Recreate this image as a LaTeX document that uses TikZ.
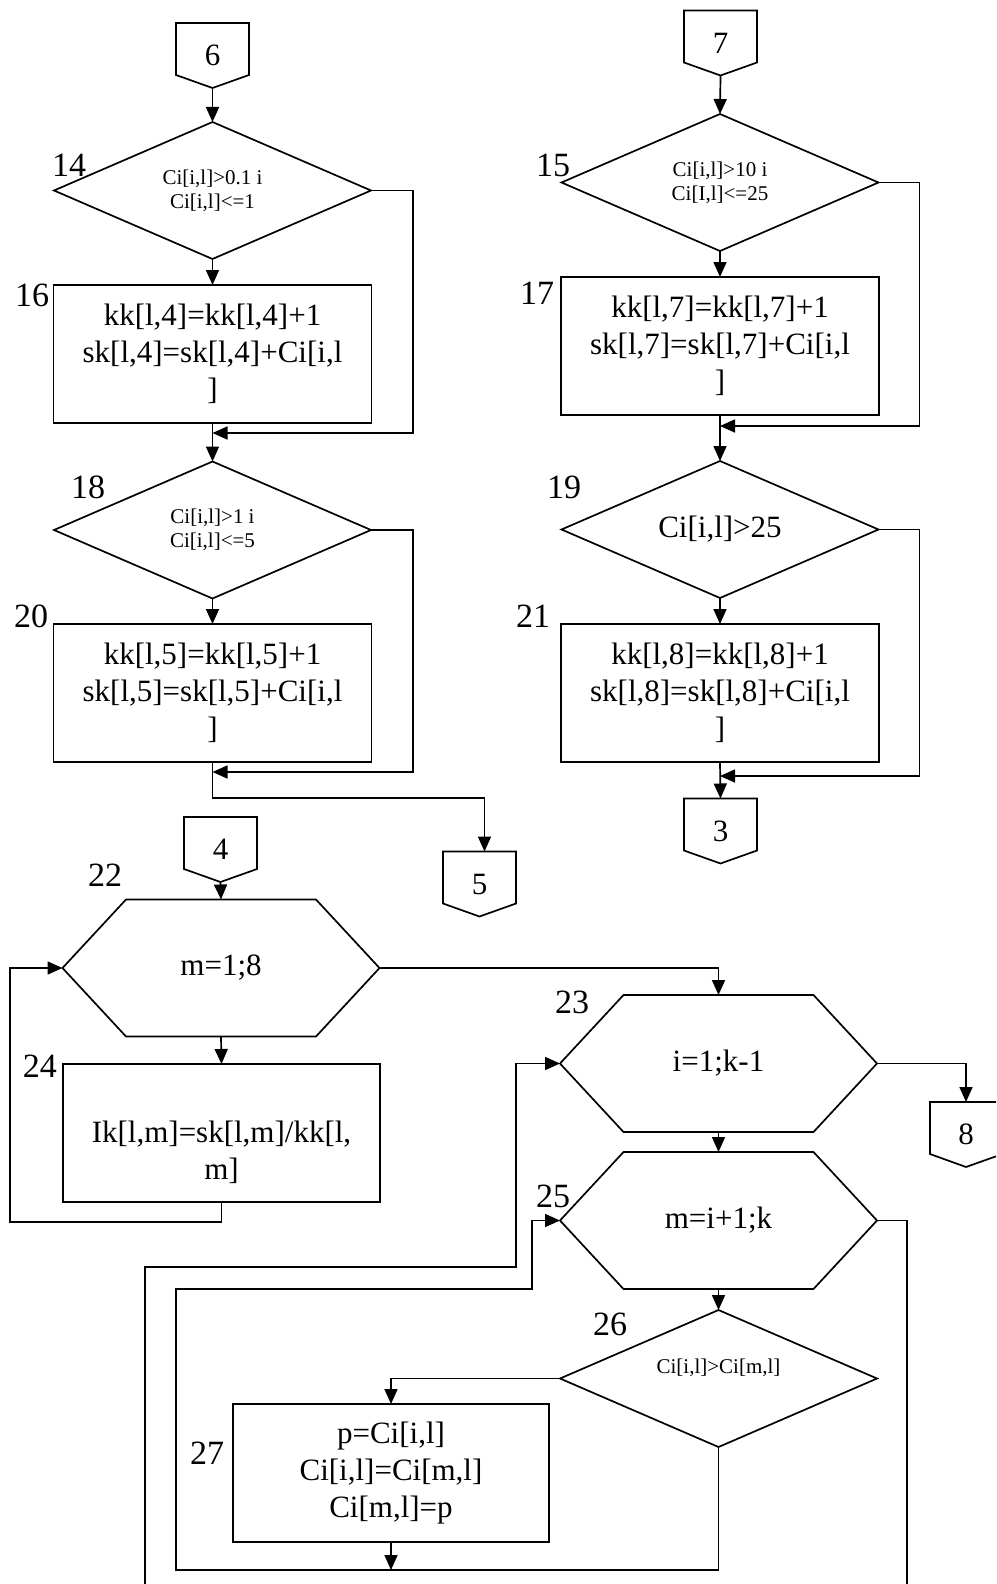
\documentclass[tikz,border=0pt]{standalone}
\usepackage{fontspec}
\setmainfont{Liberation Serif}
\usetikzlibrary{shapes.geometric,arrows.meta,calc}
\newcommand\FBig{\fontsize{31}{37}\selectfont}
\newcommand\FSmall{\fontsize{21}{24}\selectfont}
\newcommand\FLbl{\fontsize{34}{40}\selectfont}
\newcommand\FConn{\fontsize{31}{36}\selectfont}
\tikzset{
  every node/.style={inner sep=0pt, outer sep=0pt},
  flow/.style={line width=1.7pt},
  arr/.style={flow, -{Triangle[length=15pt,width=13pt]}},
  procbox/.style={draw, line width=1.7pt, minimum width=318pt, minimum height=138pt, align=center, font=\FBig},
  decis/.style={diamond, draw, line width=1.7pt, shape aspect=2.3, minimum width=317pt, minimum height=137pt, align=center, font=\FSmall},
  hexa/.style={minimum width=317pt, minimum height=137pt, align=center, font=\FBig},
  conn/.style={minimum width=73pt, minimum height=65pt, font=\FConn},
  lbl/.style={font=\FLbl},
}
\newcommand\hexnode[4]{%
  \node[hexa] (#1) at (#2,#3) {#4};
  \draw[flow] (#1.west) -- ([xshift=63.5pt]#1.north west) -- ([xshift=-63.5pt]#1.north east) -- (#1.east) -- ([xshift=-63.5pt]#1.south east) -- ([xshift=63.5pt]#1.south west) -- cycle;
}
\newcommand\offpage[4]{%
  \node[conn] (#1) at (#2,#3) {#4};
  \draw[flow] (#1.north west) -- (#1.north east) -- ([yshift=13pt]#1.south east) -- (#1.south) -- ([yshift=13pt]#1.south west) -- cycle;
}
\begin{document}
\begin{tikzpicture}[x=1pt,y=-1pt]
\fill[white] (0,0) rectangle (996,1584);

% ---------- left upper column ----------
\offpage{c6}{212.5}{55.5}{6}
\node[decis] (d14) at (212.5,190.5) {Ci[i,l]>0.1 i\\Ci[i,l]<=1};
\node[procbox] (b16) at (212.5,354) {kk[l,4]=kk[l,4]+1\\sk[l,4]=sk[l,4]+Ci[i,l\\]};
\node[decis] (d18) at (212.5,530) {Ci[i,l]>1 i\\Ci[i,l]<=5};
\node[procbox] (b20) at (212.5,693) {kk[l,5]=kk[l,5]+1\\sk[l,5]=sk[l,5]+Ci[i,l\\]};
\offpage{c5}{479.5}{884}{5}

\node[lbl] (l14) at (69,165) {14};
\node[lbl] (l16) at (32,295) {16};
\node[lbl] (l18) at (88,487) {18};
\node[lbl] (l20) at (31,616) {20};

\coordinate (j1) at (212.5,433);
\coordinate (j2) at (212.5,772);
\draw[arr] (c6.south) -- (d14.north);
\draw[arr] (d14.south) -- (b16.north);
\draw[arr] (d14.east) -- ++(42,0) |- (j1);
\draw[arr] (b16.south) -- (d18.north);
\draw[arr] (d18.south) -- (b20.north);
\draw[arr] (d18.east) -- ++(42,0) |- (j2);
\draw[arr] (b20.south) -- ++(0,36) -| ([xshift=5pt]c5.north);

% ---------- right upper column ----------
\offpage{c7}{720.5}{43}{7}
\node[decis] (d15) at (720,182.5) {Ci[i,l]>10 i\\Ci[I,l]<=25};
\node[procbox] (b17) at (720,346) {kk[l,7]=kk[l,7]+1\\sk[l,7]=sk[l,7]+Ci[i,l\\]};
\node[decis, font=\FBig] (d19) at (720,529.5) {Ci[i,l]>25};
\node[procbox] (b21) at (720,693) {kk[l,8]=kk[l,8]+1\\sk[l,8]=sk[l,8]+Ci[i,l\\]};
\offpage{c3}{720.5}{831}{3}

\node[lbl] (l15) at (553,165) {15};
\node[lbl] (l17) at (537,293) {17};
\node[lbl] (l19) at (564,487) {19};
\node[lbl] (l21) at (533,616) {21};

\coordinate (j3) at (720,426);
\coordinate (j4) at (720,776);
\draw[arr] (c7.south) -- (d15.north);
\draw[arr] (d15.south) -- (b17.north);
\draw[arr] (d15.east) -- ++(41,0) |- (j3);
\draw[arr] (b17.south) -- (d19.north);
\draw[arr] (d19.south) -- (b21.north);
\draw[arr] (d19.east) -- ++(41,0) |- (j4);
\draw[arr] (b21.south) -- (c3.north);

% ---------- lower part ----------
\offpage{c4}{220.5}{849.5}{4}
\hexnode{h22}{221}{968}{m=1;8}
\node[procbox, minimum width=317pt] (b24) at (221.5,1133) {\rule{0pt}{24pt}\\Ik[l,m]=sk[l,m]/kk[l,\\m]};
\hexnode{h23}{718.5}{1063.5}{i=1;k-1}
% off-page connector 8, cut by the right edge of the picture
\node[font=\FConn, minimum width=60pt, minimum height=65pt] (c8) at (966,1134.5) {8};
\draw[flow] (996,1102) -- (930,1102) -- (930,1154) -- (966,1167) -- (996,1156.3);
\hexnode{h25}{718.5}{1220.5}{m=i+1;k}
\node[decis] (d26) at (718.5,1378.5) {Ci[i,l]>Ci[m,l]\\\mbox{}};
\node[procbox, minimum width=316pt] (b27) at (391,1473) {p=Ci[i,l]\\Ci[i,l]=Ci[m,l]\\Ci[m,l]=p};

\node[lbl] (l22) at (105,875) {22};
\node[lbl] (l24) at (40,1066) {24};
\node[lbl] (l23) at (572,1002) {23};
\node[lbl] (l25) at (553,1196) {25};
\node[lbl] (l26) at (610,1324) {26};
\node[lbl] (l27) at (207,1453) {27};

\coordinate (o1) at (145,1584);
\coordinate (o2) at (907,1584);
\coordinate (j5) at (391,1570);

\draw[arr] (c4.south) -- (h22.north);
\draw[arr] (h22.south) -- (b24.north);
\draw[arr] (b24.south) -- ++(0,20) -| (10,968) -- (h22.west);
\draw[arr] (h22.east) -| (h23.north);
\draw[arr] (h23.east) -| (c8.north);
\draw[arr] (h23.south) -- (h25.north);
\draw[arr] (h25.south) -- (d26.north);
\draw[arr] (o1) |- (516,1267) |- (h23.west);
\draw[flow] (h25.east) -| (o2);
\draw[arr] (d26.west) -| (b27.north);
\draw[arr] (b27.south) -- (j5);
\draw[arr] (d26.south) |- (176,1570) |- (532,1289) |- (h25.west);

\pgfresetboundingbox
\useasboundingbox (0,0) rectangle (996,1584);
\end{tikzpicture}
\end{document}
